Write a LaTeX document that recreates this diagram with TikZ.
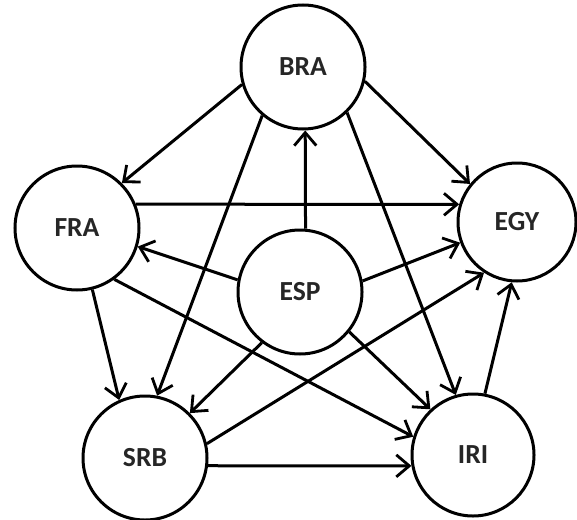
\documentclass[tikz,border=0pt]{standalone}
\usepackage{fontspec}
\setmainfont{Carlito}
\usetikzlibrary{arrows.meta}
\tikzset{
  team/.style={circle, draw=black, line width=1.5pt, minimum size=62pt, inner sep=0pt,
    font=\fontsize{13.8}{16}\selectfont\bfseries, text=black!85},
  edge/.style={line width=1.5pt, -{Straight Barb[length=6.5pt,width=11pt,line width=1.4pt]}}
}
\begin{document}
\begin{tikzpicture}[x=0.5pt,y=-0.5pt]
\useasboundingbox[fill=white] (0,0) rectangle (577,519);
\node[team] (BRA) at (303,67) {BRA};
\node[team] (FRA) at (77,228) {FRA};
\node[team, minimum size=59pt] (EGY) at (517,222) {EGY};
\node[team] (ESP) at (300,292) {ESP};
\node[team] (SRB) at (145,458) {SRB};
\node[team, minimum size=61pt] (IRI) at (473,455) {IRI};

\draw[edge] (BRA.196) -- (FRA.45);
\draw[edge] (BRA.347) -- (EGY.141);
\draw[edge] (BRA.230) -- (SRB.79);
\draw[edge] (BRA.314) -- (IRI.106);
\draw[edge] (ESP.85) -- (BRA.272);
\draw[edge] (ESP.169) -- (FRA.-17);
\draw[edge] (ESP.10) -- (EGY.200);
\draw[edge] (ESP.233) -- (SRB.45);
\draw[edge] (ESP.321) -- (IRI.133);
\draw[edge] (FRA.22) -- (EGY.163);
\draw[edge] (FRA.-76) -- (SRB.114);
\draw[edge] (FRA.-54) -- (IRI.163);
\draw[edge] (SRB.13) -- (EGY.237);
\draw[edge] (SRB.-7) -- (IRI.190);
\draw[edge] (IRI.79) -- (EGY.265);
\end{tikzpicture}
\end{document}
